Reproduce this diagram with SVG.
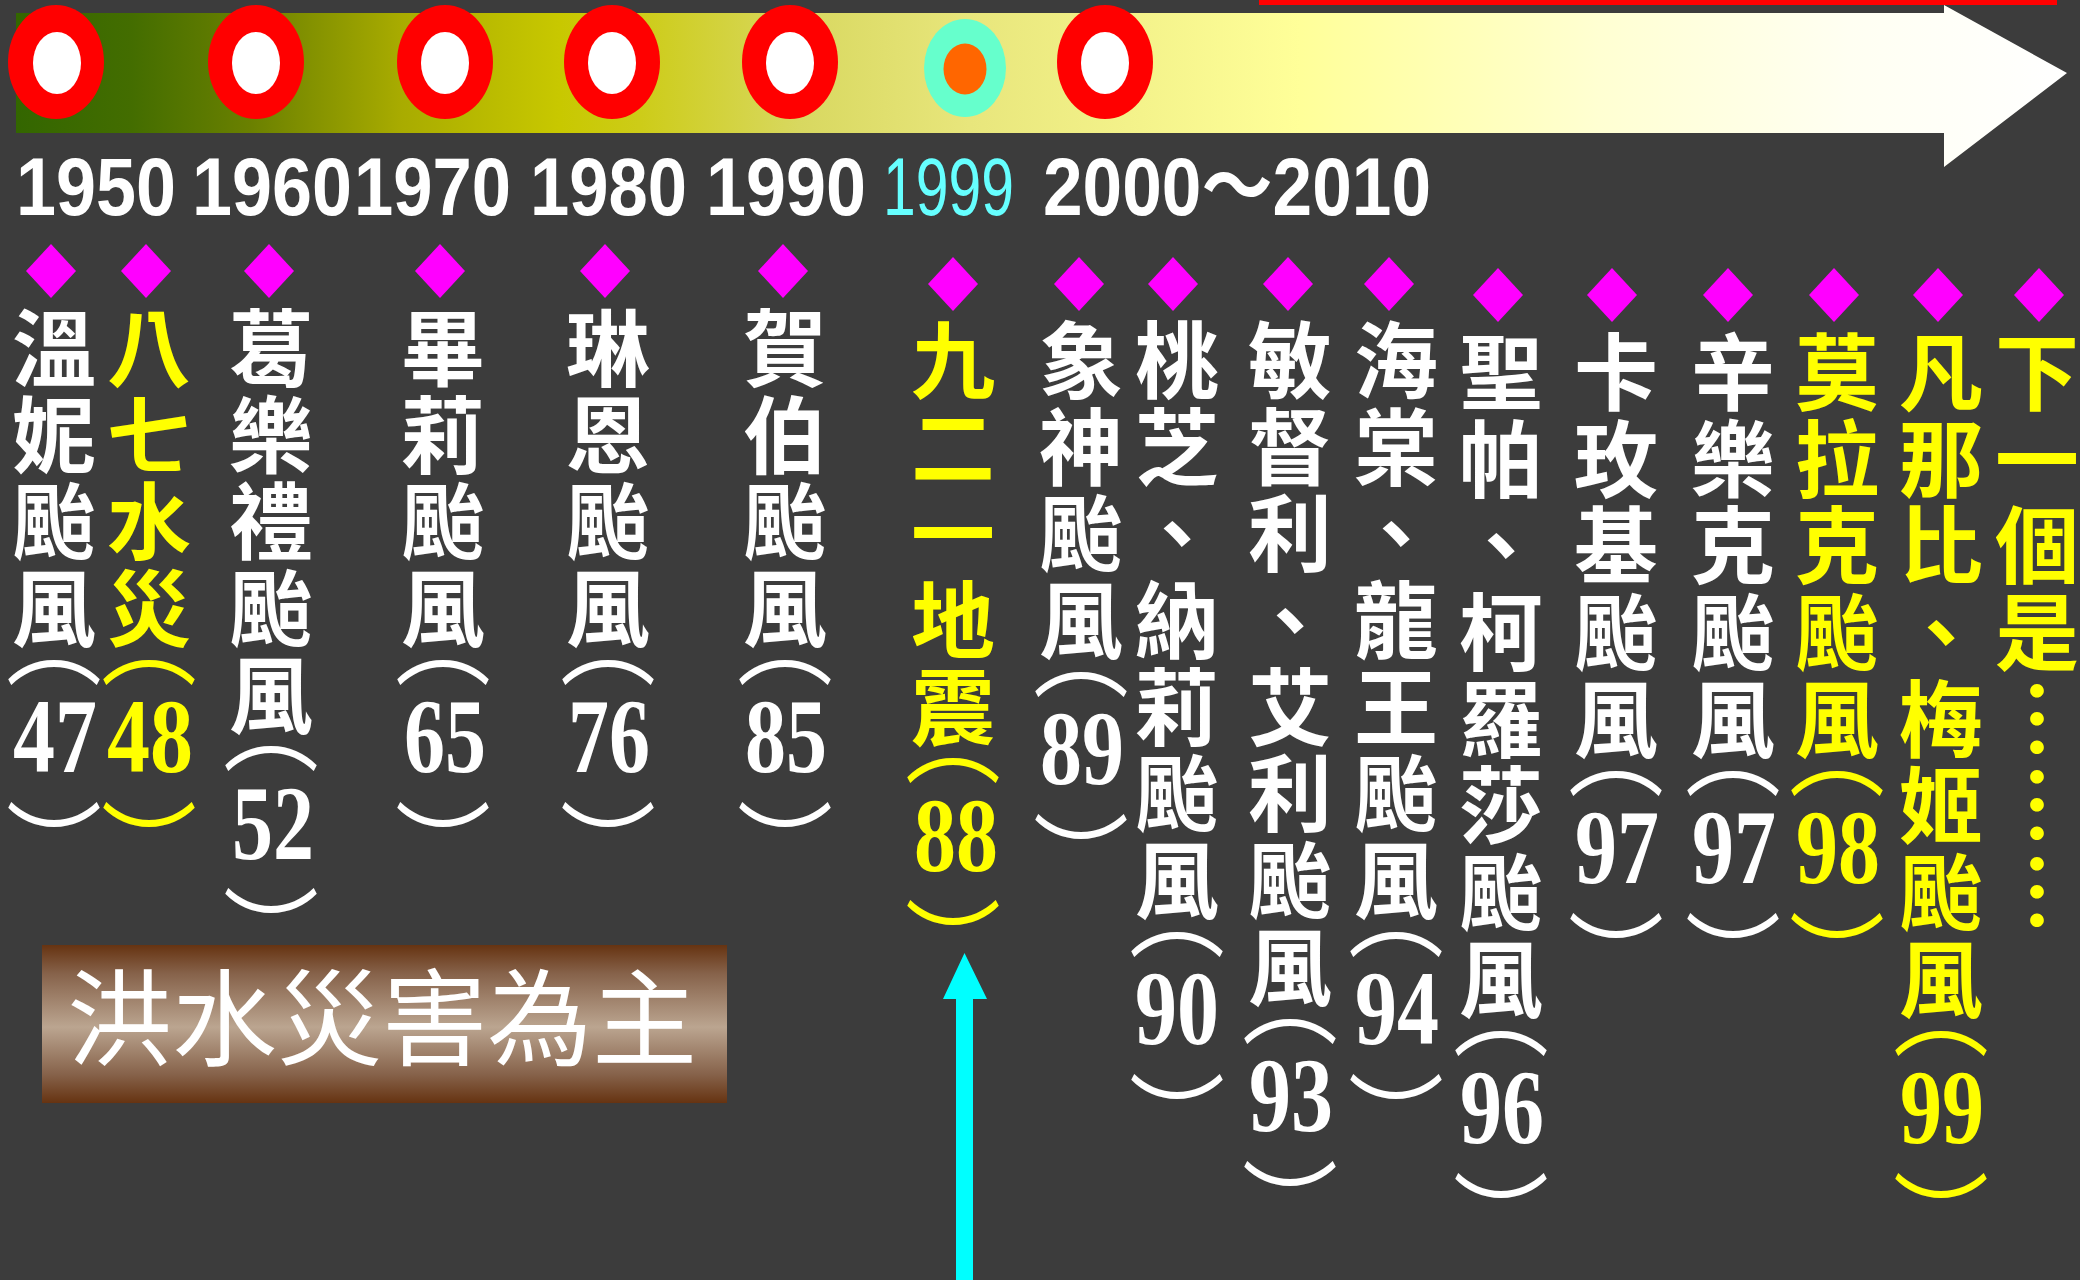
<svg xmlns="http://www.w3.org/2000/svg" xmlns:xlink="http://www.w3.org/1999/xlink" width="2080" height="1280" viewBox="0 0 2080 1280">
<defs>
<linearGradient id="band" gradientUnits="userSpaceOnUse" x1="16" y1="0" x2="2067" y2="0">
<stop offset="0" stop-color="#336600"/>
<stop offset="0.056" stop-color="#436d00"/>
<stop offset="0.114" stop-color="#6a8000"/>
<stop offset="0.187" stop-color="#a8ab00"/>
<stop offset="0.265" stop-color="#c8c800"/>
<stop offset="0.304" stop-color="#cdcc18"/>
<stop offset="0.382" stop-color="#d8d860"/>
<stop offset="0.465" stop-color="#e8e67c"/>
<stop offset="0.626" stop-color="#ffff99"/>
<stop offset="0.772" stop-color="#ffffd2"/>
<stop offset="0.894" stop-color="#fffff2"/>
<stop offset="1" stop-color="#ffffff"/>
</linearGradient>
<linearGradient id="boxg" x1="0" y1="0" x2="0" y2="1">
<stop offset="0" stop-color="#663311"/>
<stop offset="0.18" stop-color="#86624a"/>
<stop offset="0.52" stop-color="#bba590"/>
<stop offset="0.82" stop-color="#86624a"/>
<stop offset="1" stop-color="#663311"/>
</linearGradient>
<path id="dia" d="M0,-27 L25,0 L0,27 L-25,0 Z" fill="#ff00ff"/>
<style>
.c{font-family:"Noto Sans CJK TC","Noto Sans CJK SC",sans-serif;font-size:84px;font-weight:700;text-anchor:middle}
.p{font-family:"Noto Sans CJK TC","Noto Sans CJK SC",sans-serif;font-size:96px;font-weight:400;text-anchor:middle}
.n{font-family:"Liberation Serif",serif;font-size:106px;font-weight:700;text-anchor:middle}
.w{fill:#ffffff}
.y{fill:#ffff00}
.yr{font-family:"Liberation Sans","Noto Sans CJK TC",sans-serif;font-size:81px;font-weight:700;fill:#ffffff}
</style>
</defs>
<rect width="2080" height="1280" fill="#3c3c3c"/>
<g id="timeline-band">
<rect x="1259" y="0" width="798" height="5" fill="#ff0000"/>
<path d="M16,13 H1944 V5 L2067,73 L1944,167 V133 H16 Z" fill="url(#band)"/>
</g>
<g id="year-markers">
<ellipse cx="56" cy="62" rx="48" ry="57" fill="#ff0000"/><ellipse cx="57" cy="63" rx="24" ry="31" fill="#ffffff"/>
<ellipse cx="256" cy="62" rx="48" ry="57" fill="#ff0000"/><ellipse cx="256" cy="63" rx="24" ry="31" fill="#ffffff"/>
<ellipse cx="445" cy="62" rx="48" ry="57" fill="#ff0000"/><ellipse cx="445" cy="63" rx="24" ry="31" fill="#ffffff"/>
<ellipse cx="612" cy="62" rx="48" ry="57" fill="#ff0000"/><ellipse cx="612" cy="63" rx="24" ry="31" fill="#ffffff"/>
<ellipse cx="790" cy="62" rx="48" ry="57" fill="#ff0000"/><ellipse cx="790" cy="63" rx="24" ry="31" fill="#ffffff"/>
<ellipse cx="965" cy="68" rx="41" ry="49" fill="#66ffcc"/><ellipse cx="965" cy="69" rx="21.5" ry="25.5" fill="#ff6600"/>
<ellipse cx="1105" cy="62" rx="48" ry="57" fill="#ff0000"/><ellipse cx="1105" cy="63" rx="24" ry="31" fill="#ffffff"/>
</g>
<g id="year-labels">
<text class="yr" x="16" y="215" textLength="160" lengthAdjust="spacingAndGlyphs">1950</text>
<text class="yr" x="192" y="215" textLength="160" lengthAdjust="spacingAndGlyphs">1960</text>
<text class="yr" x="354" y="215" textLength="157" lengthAdjust="spacingAndGlyphs">1970</text>
<text class="yr" x="530" y="215" textLength="157" lengthAdjust="spacingAndGlyphs">1980</text>
<text class="yr" x="706" y="215" textLength="160" lengthAdjust="spacingAndGlyphs">1990</text>
<text class="yr" x="883" y="215" textLength="131" lengthAdjust="spacingAndGlyphs" style="fill:#66ffff;font-weight:400">1999</text>
<text class="yr" x="1043" y="215" textLength="388" lengthAdjust="spacingAndGlyphs">2000～2010</text>
</g>

<g id="ev-1947">
<use href="#dia" x="51" y="271"/>
<text class="c w"><tspan x="54" y="380">溫</tspan><tspan x="54" y="467">妮</tspan><tspan x="54" y="553">颱</tspan><tspan x="54" y="640">風</tspan></text>
<text class="p w" x="54" y="677">︵</text>
<text class="n w" x="55" y="772" textLength="84" lengthAdjust="spacingAndGlyphs">47</text>
<text class="p w" x="54" y="882">︶</text>
</g>
<g id="ev-1948">
<use href="#dia" x="146" y="271"/>
<text class="c y"><tspan x="149" y="380">八</tspan><tspan x="149" y="467">七</tspan><tspan x="149" y="553">水</tspan><tspan x="149" y="640">災</tspan></text>
<text class="p y" x="149" y="677">︵</text>
<text class="n y" x="150" y="772" textLength="86" lengthAdjust="spacingAndGlyphs">48</text>
<text class="p y" x="149" y="882">︶</text>
</g>
<g id="ev-1952">
<use href="#dia" x="269" y="271"/>
<text class="c w"><tspan x="271" y="380">葛</tspan><tspan x="271" y="467">樂</tspan><tspan x="271" y="553">禮</tspan><tspan x="271" y="640">颱</tspan><tspan x="271" y="727">風</tspan></text>
<text class="p w" x="271" y="763">︵</text>
<text class="n w" x="273" y="859" textLength="82" lengthAdjust="spacingAndGlyphs">52</text>
<text class="p w" x="271" y="968">︶</text>
</g>
<g id="ev-1965">
<use href="#dia" x="440" y="271"/>
<text class="c w"><tspan x="443" y="380">畢</tspan><tspan x="443" y="467">莉</tspan><tspan x="443" y="553">颱</tspan><tspan x="443" y="640">風</tspan></text>
<text class="p w" x="443" y="677">︵</text>
<text class="n w" x="445" y="772" textLength="82" lengthAdjust="spacingAndGlyphs">65</text>
<text class="p w" x="443" y="882">︶</text>
</g>
<g id="ev-1976">
<use href="#dia" x="605" y="271"/>
<text class="c w"><tspan x="608" y="380">琳</tspan><tspan x="608" y="467">恩</tspan><tspan x="608" y="553">颱</tspan><tspan x="608" y="640">風</tspan></text>
<text class="p w" x="608" y="677">︵</text>
<text class="n w" x="609" y="772" textLength="82" lengthAdjust="spacingAndGlyphs">76</text>
<text class="p w" x="608" y="882">︶</text>
</g>
<g id="ev-1985">
<use href="#dia" x="783" y="271"/>
<text class="c w"><tspan x="785" y="380">賀</tspan><tspan x="785" y="467">伯</tspan><tspan x="785" y="553">颱</tspan><tspan x="785" y="640">風</tspan></text>
<text class="p w" x="785" y="677">︵</text>
<text class="n w" x="786" y="772" textLength="82" lengthAdjust="spacingAndGlyphs">85</text>
<text class="p w" x="785" y="882">︶</text>
</g>
<g id="ev-1988">
<use href="#dia" x="953" y="284"/>
<text class="c y"><tspan x="953" y="392">九</tspan><tspan x="953" y="479">二</tspan><tspan x="953" y="565">一</tspan><tspan x="953" y="652">地</tspan><tspan x="953" y="739">震</tspan></text>
<text class="p y" x="953" y="775">︵</text>
<text class="n y" x="956" y="871" textLength="84" lengthAdjust="spacingAndGlyphs">88</text>
<text class="p y" x="953" y="980">︶</text>
</g>
<g id="ev-1989">
<use href="#dia" x="1079" y="284"/>
<text class="c w"><tspan x="1081" y="392">象</tspan><tspan x="1081" y="479">神</tspan><tspan x="1081" y="565">颱</tspan><tspan x="1081" y="652">風</tspan></text>
<text class="p w" x="1081" y="689">︵</text>
<text class="n w" x="1082" y="784" textLength="84" lengthAdjust="spacingAndGlyphs">89</text>
<text class="p w" x="1081" y="894">︶</text>
</g>
<g id="ev-1990">
<use href="#dia" x="1173" y="284"/>
<text class="c w"><tspan x="1177" y="392">桃</tspan><tspan x="1177" y="479">芝</tspan><tspan x="1177" y="565">、</tspan><tspan x="1177" y="652">納</tspan><tspan x="1177" y="739">莉</tspan><tspan x="1177" y="825">颱</tspan><tspan x="1177" y="912">風</tspan></text>
<text class="p w" x="1177" y="949">︵</text>
<text class="n w" x="1177" y="1044" textLength="84" lengthAdjust="spacingAndGlyphs">90</text>
<text class="p w" x="1177" y="1154">︶</text>
</g>
<g id="ev-1993">
<use href="#dia" x="1288" y="284"/>
<text class="c w"><tspan x="1290" y="392">敏</tspan><tspan x="1290" y="479">督</tspan><tspan x="1290" y="565">利</tspan><tspan x="1290" y="652">、</tspan><tspan x="1290" y="739">艾</tspan><tspan x="1290" y="825">利</tspan><tspan x="1290" y="912">颱</tspan><tspan x="1290" y="999">風</tspan></text>
<text class="p w" x="1290" y="1036">︵</text>
<text class="n w" x="1291" y="1131" textLength="84" lengthAdjust="spacingAndGlyphs">93</text>
<text class="p w" x="1290" y="1241">︶</text>
</g>
<g id="ev-1994">
<use href="#dia" x="1389" y="284"/>
<text class="c w"><tspan x="1396" y="392">海</tspan><tspan x="1396" y="479">棠</tspan><tspan x="1396" y="565">、</tspan><tspan x="1396" y="652">龍</tspan><tspan x="1396" y="739">王</tspan><tspan x="1396" y="825">颱</tspan><tspan x="1396" y="912">風</tspan></text>
<text class="p w" x="1396" y="949">︵</text>
<text class="n w" x="1397" y="1044" textLength="84" lengthAdjust="spacingAndGlyphs">94</text>
<text class="p w" x="1396" y="1154">︶</text>
</g>
<g id="ev-1996">
<use href="#dia" x="1498" y="295"/>
<text class="c w"><tspan x="1501" y="404">聖</tspan><tspan x="1501" y="491">帕</tspan><tspan x="1501" y="577">、</tspan><tspan x="1501" y="664">柯</tspan><tspan x="1501" y="751">羅</tspan><tspan x="1501" y="837">莎</tspan><tspan x="1501" y="924">颱</tspan><tspan x="1501" y="1011">風</tspan></text>
<text class="p w" x="1501" y="1048">︵</text>
<text class="n w" x="1502" y="1143" textLength="84" lengthAdjust="spacingAndGlyphs">96</text>
<text class="p w" x="1501" y="1253">︶</text>
</g>
<g id="ev-1997a">
<use href="#dia" x="1612" y="295"/>
<text class="c w"><tspan x="1616" y="404">卡</tspan><tspan x="1616" y="491">玫</tspan><tspan x="1616" y="577">基</tspan><tspan x="1616" y="664">颱</tspan><tspan x="1616" y="751">風</tspan></text>
<text class="p w" x="1616" y="788">︵</text>
<text class="n w" x="1617" y="883" textLength="84" lengthAdjust="spacingAndGlyphs">97</text>
<text class="p w" x="1616" y="993">︶</text>
</g>
<g id="ev-1997b">
<use href="#dia" x="1728" y="295"/>
<text class="c w"><tspan x="1733" y="404">辛</tspan><tspan x="1733" y="491">樂</tspan><tspan x="1733" y="577">克</tspan><tspan x="1733" y="664">颱</tspan><tspan x="1733" y="751">風</tspan></text>
<text class="p w" x="1733" y="788">︵</text>
<text class="n w" x="1734" y="883" textLength="84" lengthAdjust="spacingAndGlyphs">97</text>
<text class="p w" x="1733" y="993">︶</text>
</g>
<g id="ev-1998">
<use href="#dia" x="1834" y="295"/>
<text class="c y"><tspan x="1837" y="404">莫</tspan><tspan x="1837" y="491">拉</tspan><tspan x="1837" y="577">克</tspan><tspan x="1837" y="664">颱</tspan><tspan x="1837" y="751">風</tspan></text>
<text class="p y" x="1837" y="788">︵</text>
<text class="n y" x="1838" y="883" textLength="84" lengthAdjust="spacingAndGlyphs">98</text>
<text class="p y" x="1837" y="993">︶</text>
</g>
<g id="ev-1999">
<use href="#dia" x="1938" y="295"/>
<text class="c y"><tspan x="1941" y="404">凡</tspan><tspan x="1941" y="491">那</tspan><tspan x="1941" y="577">比</tspan><tspan x="1941" y="664">、</tspan><tspan x="1941" y="751">梅</tspan><tspan x="1941" y="837">姬</tspan><tspan x="1941" y="924">颱</tspan><tspan x="1941" y="1011">風</tspan></text>
<text class="p y" x="1941" y="1048">︵</text>
<text class="n y" x="1942" y="1143" textLength="84" lengthAdjust="spacingAndGlyphs">99</text>
<text class="p y" x="1941" y="1253">︶</text>
</g>
<g id="ev-next">
<use href="#dia" x="2039" y="295"/>
<text class="c y"><tspan x="2037" y="404">下</tspan><tspan x="2037" y="491">一</tspan><tspan x="2037" y="577">個</tspan><tspan x="2037" y="664">是</tspan><tspan x="2037" y="751">︙</tspan><tspan x="2037" y="837">︙</tspan><tspan x="2037" y="924">︙</tspan></text>
</g>

<g id="flood-label">
<rect x="42" y="945" width="685" height="158" fill="url(#boxg)"/>
<text x="67" y="1057" font-family="Noto Sans CJK TC, Noto Sans CJK SC, sans-serif" font-size="105" fill="#ffffff">洪水災害為主</text>
</g>

<g id="connectors">
<path d="M964.5,953 L987,999 L973,999 L973,1280 L956,1280 L956,999 L943,999 Z" fill="#00ffff"/>
</g>
</svg>
